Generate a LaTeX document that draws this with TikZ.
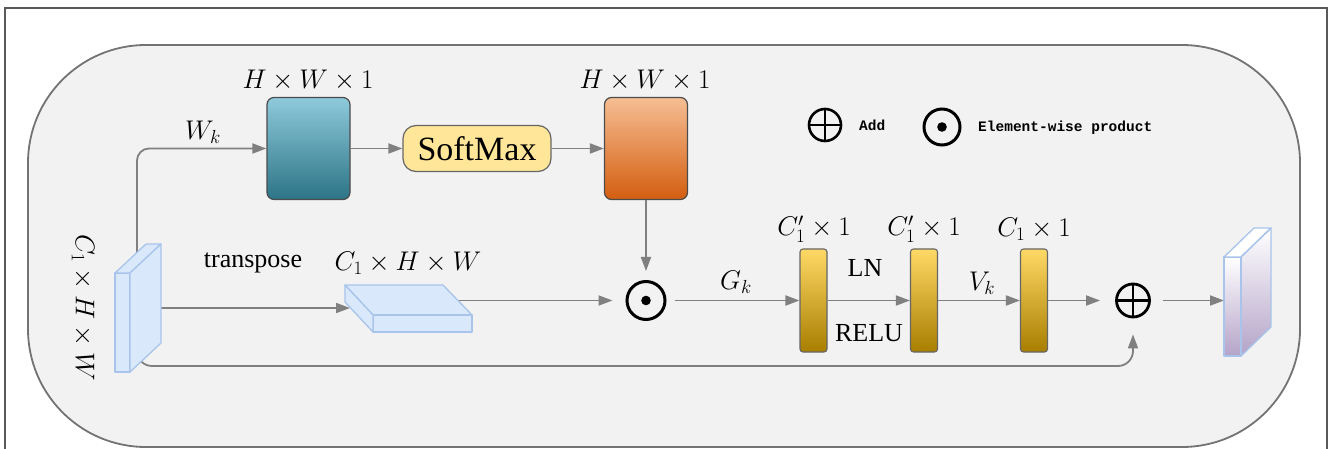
\documentclass[tikz,border=0pt]{standalone}
\usepackage{fix-cm}
\usepackage{fontspec}
\setmainfont{Liberation Serif}
\newfontfamily\legfont{Liberation Mono}
\usetikzlibrary{arrows.meta}
\definecolor{linegray}{HTML}{808080}
\definecolor{bgfill}{HTML}{F2F2F2}
\definecolor{slabfill}{HTML}{DAE8FC}
\definecolor{slabdraw}{HTML}{A9C4EB}
\definecolor{tealtop}{HTML}{8ECADB}
\definecolor{tealmid}{HTML}{4BAEC6}
\definecolor{tealbot}{HTML}{2C7486}
\definecolor{orgtop}{HTML}{F6BE93}
\definecolor{orgmid}{HTML}{F08A3C}
\definecolor{orgbot}{HTML}{D35E10}
\definecolor{bartop}{HTML}{FFD966}
\definecolor{barmid}{HTML}{FFC000}
\definecolor{barbot}{HTML}{A87E00}
\definecolor{smfill}{HTML}{FFE699}
\definecolor{purp}{HTML}{B4A3C8}
\begin{document}
\begin{tikzpicture}[x=1pt,y=-1pt,
  conn/.style={draw=linegray, line width=1.8pt, -{Triangle[length=14pt,width=10pt]}},
  mlabel/.style={font=\fontsize{27}{30}\selectfont, inner sep=0pt},
  tlabel/.style={font=\fontsize{26}{28}\selectfont, inner sep=0pt},
  slab/.style={fill=slabfill, draw=slabdraw, line width=1.3pt, line join=round},
  bigbox/.style={draw=black!70, line width=1.2pt, rounded corners=7pt, minimum width=83pt, minimum height=102pt, inner sep=0pt},
  barbox/.style={draw=black!60, line width=1.1pt, rounded corners=3pt, minimum width=27pt, minimum height=103pt, inner sep=0pt, top color=bartop, middle color=barmid, bottom color=barbot},
  opcircle/.style={circle, draw=black, inner sep=0pt},
  legtext/.style={font=\legfont\bfseries\fontsize{14.5}{16}\selectfont, inner sep=0pt, anchor=west}
]
\useasboundingbox (0,0) rectangle (1331,449);
% outer frame
\draw[draw=black!65, line width=1.5pt] (5,449) -- (5,8) -- (1327,8) -- (1327,449);
% inner rounded panel
\draw[fill=bgfill, draw=black!55, line width=1.8pt, rounded corners=118pt] (28,45) rectangle (1300,447);

% coordinates
\coordinate (inTop) at (137,258);
\coordinate (inRight) at (161,308);
\coordinate (inBot) at (137,362);
\coordinate (tsIn) at (350,308);
\coordinate (tsOut) at (458,300.5);
\coordinate (outIn) at (1224,300.5);

% nodes
\node[bigbox, top color=tealtop, middle color=tealmid, bottom color=tealbot] (teal) at (308.5,148.5) {};
\node[draw=black!60, line width=1.2pt, fill=smfill, rounded corners=13pt, minimum width=148pt, minimum height=46pt, inner sep=0pt, font=\fontsize{34}{36}\selectfont] (sm) at (477,148.5) {SoftMax};
\node[bigbox, top color=orgtop, middle color=orgmid, bottom color=orgbot] (org) at (646,148.5) {};
\node[opcircle, minimum size=38pt, line width=3pt] (odot) at (646,300.5) {};
\fill (odot.center) circle (4.8pt);
\node[barbox] (bar1) at (813.5,300.5) {};
\node[barbox] (bar2) at (924,300.5) {};
\node[barbox] (bar3) at (1034,300.5) {};
\node[opcircle, minimum size=33pt, line width=2.8pt] (oplus) at (1133,300.5) {};
\draw[line width=2.8pt] (oplus.north) -- (oplus.south) (oplus.west) -- (oplus.east);

% legend
\node[opcircle, minimum size=32pt, line width=2.6pt] (lplus) at (825,125) {};
\draw[line width=2.6pt] (lplus.north) -- (lplus.south) (lplus.west) -- (lplus.east);
\node[legtext] (ladd) at (859,125) {Add};
\node[opcircle, minimum size=36pt, line width=3pt] (ldot) at (942,127) {};
\fill (ldot.center) circle (4.8pt);
\node[legtext] (lelem) at (978,128) {Element-wise product};

% connectors
\draw[conn, rounded corners=12pt] (inTop) |- (teal.west);
\draw[conn] (teal.east) -- (sm.west);
\draw[conn] (sm.east) -- (org.west);
\draw[conn, shorten >=9pt] (org.south) -- (odot.north);
\draw[conn] (inRight) -- (tsIn);
\draw[conn, shorten >=13pt] (tsOut) -- (odot.west);
\draw[conn, shorten <=8pt] (odot.east) -- (bar1.west);
\draw[conn] (bar1.east) -- (bar2.west);
\draw[conn] (bar2.east) -- (bar3.west);
\draw[conn, shorten >=15pt] (bar3.east) -- (oplus.west);
\draw[conn, shorten <=12pt] (oplus.east) -- (outIn);
\draw[conn, rounded corners=15pt, shorten >=16pt] (inBot) |- (1133,366) -- (oplus.south);

% input slab
\draw[slab] (115,273) rectangle (130,372);
\draw[slab] (115,273) -- (130,273) -- (161,244) -- (146,244) -- cycle;
\draw[slab] (130,273) -- (161,244) -- (161,343) -- (130,372) -- cycle;
% transposed slab
\draw[slab] (345,285) -- (443,285) -- (472,315) -- (373,315) -- cycle;
\draw[slab] (373,315) rectangle (472,332);
\draw[slab] (345,285) -- (373,315) -- (373,332) -- (345,302) -- cycle;
% output slab
\shade[top color=white, middle color=white!70!purp, bottom color=purp] (1224,257) rectangle (1241,356);
\shade[top color=white, middle color=white!70!purp, bottom color=purp] (1241,257) -- (1271,228) -- (1271,327) -- (1241,356) -- cycle;
\draw[draw=slabdraw, line width=1.3pt, line join=round] (1224,257) rectangle (1241,356);
\draw[fill=white, draw=slabdraw, line width=1.3pt, line join=round] (1224,257) -- (1241,257) -- (1271,228) -- (1254,228) -- cycle;
\draw[draw=slabdraw, line width=1.3pt, line join=round] (1241,257) -- (1271,228) -- (1271,327) -- (1241,356) -- cycle;

% labels
\node[mlabel] (lw) at (203,132) {$W_k$};
\node[mlabel] (lt) at (308,80) {$H\times W\times 1$};
\node[mlabel] (lo) at (645,80) {$H\times W\times 1$};
\node[mlabel] (lc) at (408,263) {$C_1\times H\times W$};
\node[tlabel] (ltr) at (253,263) {transpose};
\node[mlabel, rotate=-90] (lin) at (83,308) {$C_1\times H\times W$};
\node[mlabel] (lg) at (736,282) {$G_k$};
\node[mlabel] (lv) at (982,283) {$V_k$};
\node[tlabel] (lln) at (865,268) {LN};
\node[tlabel] (lrelu) at (869,333) {RELU};
\node[mlabel] (lb1) at (814,229) {$C_1^{\prime}\times 1$};
\node[mlabel] (lb2) at (924,229) {$C_1^{\prime}\times 1$};
\node[mlabel] (lb3) at (1034,229) {$C_1\times 1$};
\end{tikzpicture}
\end{document}
